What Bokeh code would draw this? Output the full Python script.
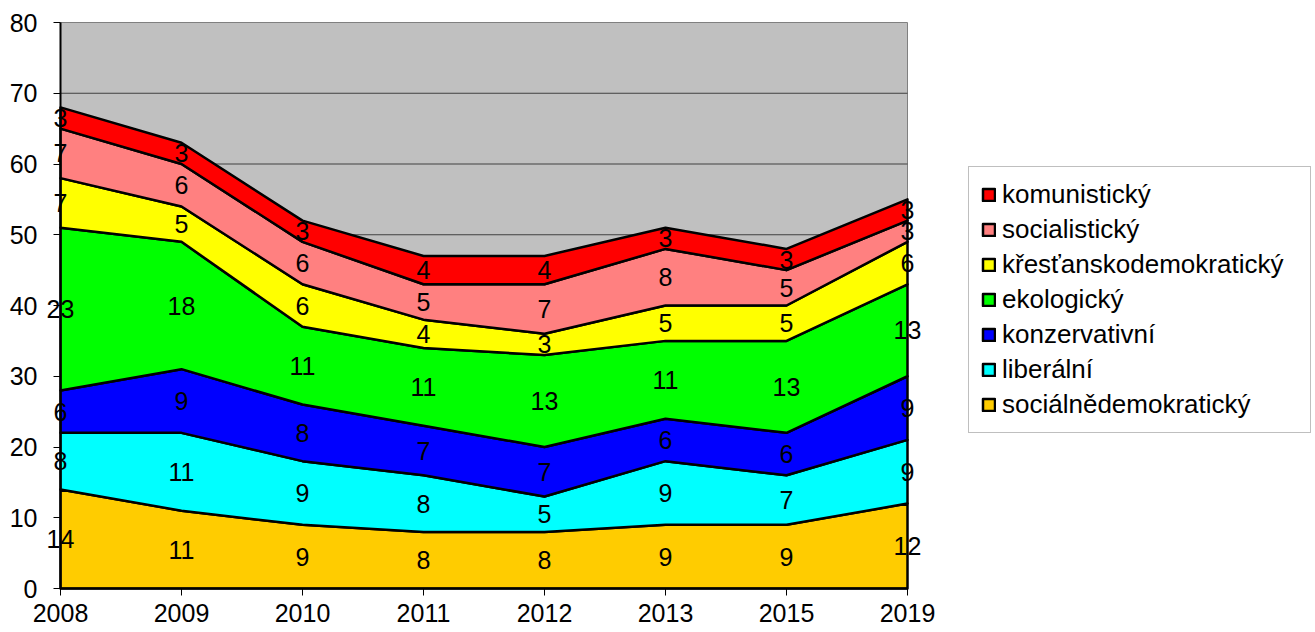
from bokeh.plotting import figure
from bokeh.models import Legend, LegendItem, FixedTicker, Range1d, ColumnDataSource
from bokeh.core.properties import value
from bokeh.embed import file_html
from bokeh.resources import INLINE

years = ["2008", "2009", "2010", "2011", "2012", "2013", "2015", "2019"]
series_names = ["sociálnědemokratický", "liberální", "konzervativní", "ekologický",
                "křesťanskodemokratický", "socialistický", "komunistický"]
socialnedemokraticky = [14, 11, 9, 8, 8, 9, 9, 12]
liberalni = [8, 11, 9, 8, 5, 9, 7, 9]
konzervativni = [6, 9, 8, 7, 7, 6, 6, 9]
ekologicky = [23, 18, 11, 11, 13, 11, 13, 13]
krestanskodemokraticky = [7, 5, 6, 4, 3, 5, 5, 6]
socialisticky = [7, 6, 6, 5, 7, 8, 5, 3]
komunisticky = [3, 3, 3, 4, 4, 3, 3, 3]
series_values = [socialnedemokraticky, liberalni, konzervativni, ekologicky,
                 krestanskodemokraticky, socialisticky, komunisticky]
colors = ["#FFCC00", "#00FFFF", "#0000FF", "#00FF00", "#FFFF00", "#FF8080", "#FF0000"]
y_ticks = [0, 10, 20, 30, 40, 50, 60, 70, 80]

FONT = "Liberation Sans"
n = len(years)
xs = list(range(n))

# layout (pixels)
W, H = 1313, 630
area_left_px, area_right_px = 60, 907
area_top_px, area_bottom_px = 22, 588
ppx = (area_right_px - area_left_px) / (n - 1)
ppy = (area_bottom_px - area_top_px) / (y_ticks[-1] - y_ticks[0])
x0 = -area_left_px / ppx
x1 = x0 + W / ppx
y1 = y_ticks[-1] + area_top_px / ppy
y0 = -(H - area_bottom_px) / ppy

p = figure(width=W, height=H, output_backend="svg", toolbar_location=None,
           x_range=Range1d(x0, x1), y_range=Range1d(y0, y1),
           min_border_left=0, min_border_right=0, min_border_top=0, min_border_bottom=0)
p.background_fill_color = "white"
p.border_fill_color = "white"
p.outline_line_color = None
p.grid.visible = False

# plot area background and gridlines
p.quad(left=0, right=n - 1, bottom=y_ticks[0], top=y_ticks[-1],
       fill_color="#C0C0C0", line_color="#808080", line_width=1)
p.segment(x0=[0] * (len(y_ticks) - 2), x1=[n - 1] * (len(y_ticks) - 2),
          y0=y_ticks[1:-1], y1=y_ticks[1:-1], line_color="#404040", line_width=1)

p.yaxis.ticker = FixedTicker(ticks=y_ticks)
p.xaxis.ticker = FixedTicker(ticks=xs)
p.xaxis.major_label_overrides = {i: y for i, y in enumerate(years)}
p.yaxis.fixed_location = 0
p.xaxis.fixed_location = 0
p.yaxis.bounds = (y_ticks[0], y_ticks[-1])
p.xaxis.bounds = (0, n - 1)

for ax in (p.xaxis[0], p.yaxis[0]):
    ax.axis_line_color = "black"
    ax.axis_line_width = 2
    ax.major_tick_line_color = "black"
    ax.major_tick_line_width = 1
    ax.major_tick_out = 7
    ax.major_tick_in = 0
    ax.minor_tick_line_color = None
    ax.major_label_text_font = FONT
    ax.major_label_text_font_size = "25px"
    ax.major_label_text_color = "black"
p.yaxis.major_label_standoff = 16
p.xaxis.major_label_standoff = 8

bottom = [0] * n
renderers = []
lab_x, lab_y, lab_t = [], [], []
for name, vals, col in zip(series_names, series_values, colors):
    top = [b + v for b, v in zip(bottom, vals)]
    px = xs + xs[::-1]
    py = top + bottom[::-1]
    r = p.patch(px, py, fill_color=col, line_color="black", line_width=2.5, line_join="round")
    renderers.append((name, r))
    for i in range(n):
        lab_x.append(xs[i])
        lab_y.append(bottom[i] + vals[i] / 2)
        lab_t.append(str(vals[i]))
    bottom = top

src = ColumnDataSource(dict(x=lab_x, y=lab_y, t=lab_t))
p.text(x="x", y="y", text="t", source=src, text_align="center", text_baseline="middle",
       text_font=value(FONT), text_font_size="25px", text_color="black")

items = [LegendItem(label=name, renderers=[r]) for name, r in renderers[::-1]]
legend = Legend(items=items, location=(968, H - 433), orientation="vertical",
                label_text_font=FONT, label_text_font_size="26px", label_text_color="black",
                glyph_width=15, glyph_height=15, label_standoff=6, spacing=4,
                label_height=29, label_width=296,
                padding=12, margin=0, border_line_color="#808080", border_line_width=1,
                background_fill_color="white", background_fill_alpha=1.0)
p.add_layout(legend, "center")

open("out.html", "w").write(file_html(p, INLINE))
